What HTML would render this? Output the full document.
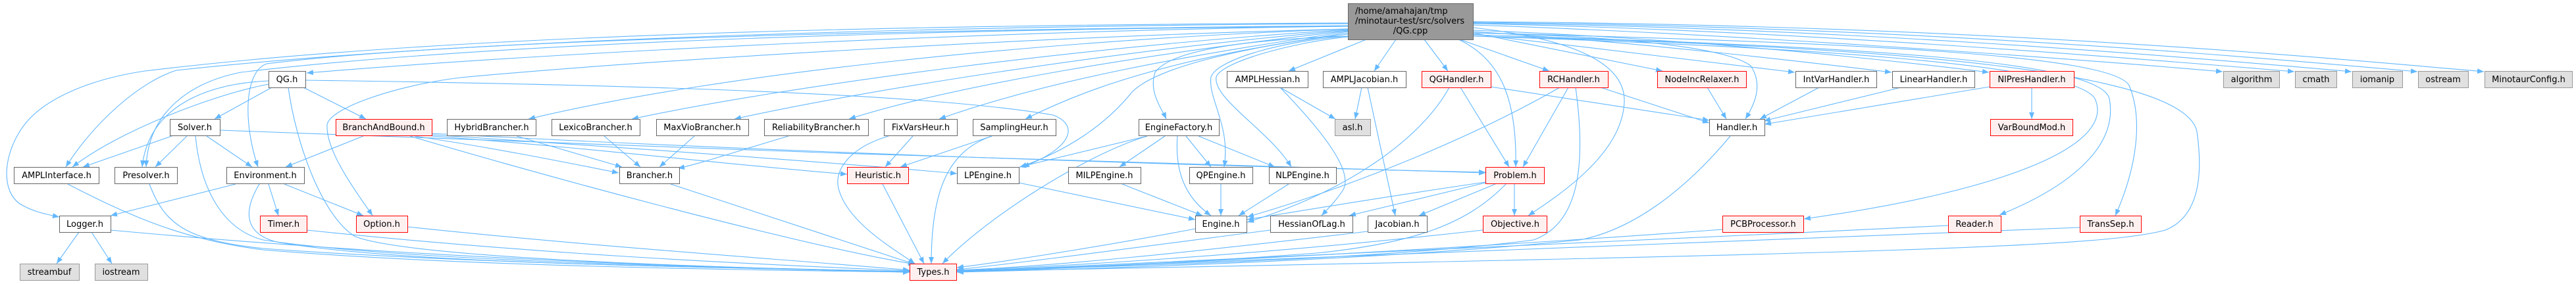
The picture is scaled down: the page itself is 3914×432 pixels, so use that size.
<!DOCTYPE html>
<html><head><meta charset="utf-8"><style>
html,body{margin:0;padding:0;background:#fff;}
svg{display:block;}
text{font-family:"DejaVu Sans","Liberation Sans",sans-serif;font-size:13px;fill:#000;text-anchor:middle;}
.n{fill:#fff;stroke:#666;stroke-width:1;}
.r{fill:#fff0f0;stroke:#ff0000;stroke-width:1;}
.g{fill:#e0e0e0;stroke:#999;stroke-width:1;}
.e path{fill:none;stroke:#63b8ff;stroke-width:1.1;}
</style></head><body>
<svg width="3914" height="432" viewBox="0 0 3914 432" xmlns="http://www.w3.org/2000/svg">
<defs><marker id="ah" viewBox="0 0 10 8" refX="10" refY="4" markerWidth="10" markerHeight="8" orient="auto" markerUnits="userSpaceOnUse"><path d="M0,0L10,4L0,8z" fill="#63b8ff"/></marker></defs>
<rect width="3914" height="432" fill="#fff"/>
<g class="e" marker-end="url(#ah)">
<path d="M2048,40 C1600,45 900,75 466,111"/>
<path d="M2048,36 C1400,40 700,60 268,107 C210,125 140,190 100,254"/>
<path d="M2048,35 C1400,38 700,50 220,108 C140,120 60,150 30,200 C5,240 2,290 30,310 C50,322 70,326 90,330"/>
<path d="M2048,40 C1300,45 700,70 366,110 C290,125 225,170 222,254"/>
<path d="M2048,39 C1400,45 700,60 405,97 C370,110 370,190 392,254"/>
<path d="M2048,44 C1600,55 1000,90 700,118 C600,130 500,165 497,190 C495,230 540,290 566,328"/>
<path d="M2048,44 C1600,60 1100,110 803,181"/>
<path d="M2048,45 C1650,70 1200,130 960,181"/>
<path d="M2048,46 C1700,75 1300,140 1116,181"/>
<path d="M2048,47 C1750,80 1450,130 1290,181"/>
<path d="M2048,48 C1800,85 1600,120 1427,181"/>
<path d="M2048,50 C1850,80 1700,110 1558,181"/>
<path d="M2048,52 C1900,70 1760,100 1720,140 C1680,190 1620,230 1550,254"/>
<path d="M2048,55 C1900,60 1780,75 1755,110 C1745,140 1765,165 1772,181"/>
<path d="M2048,55 C1950,62 1850,90 1840,117 C1835,150 1870,190 1860,254"/>
<path d="M2048,56 C1960,65 1855,95 1848,117 C1842,150 1930,200 1962,254"/>
<path d="M2076,60 L1958,108"/>
<path d="M2121,60 L2088,108"/>
<path d="M2164,60 L2200,108"/>
<path d="M2216,60 C2280,90 2305,150 2303,254"/>
<path d="M2218,60 L2354,108"/>
<path d="M2238,42 C2400,60 2470,100 2468,155 C2465,230 2380,290 2322,328"/>
<path d="M2238,50 L2526,108"/>
<path d="M2238,52 C2400,70 2600,95 2727,110"/>
<path d="M2238,48 C2500,65 2750,95 2874,110"/>
<path d="M2238,46 C2600,60 2900,95 3022,110"/>
<path d="M2238,50 C2450,55 2620,70 2660,100 C2680,130 2665,160 2652,181"/>
<path d="M2238,55 C2700,70 3150,95 3183,150 C3215,220 3050,290 2741,333"/>
<path d="M2238,53 C2800,70 3190,90 3205,150 C3220,230 3130,290 3038,327"/>
<path d="M2238,50 C2850,65 3210,85 3235,130 C3260,190 3240,270 3214,328"/>
<path d="M2238,55 C2900,70 3320,110 3338,200 C3348,270 3340,330 3290,350 C3200,375 2900,385 1454,413"/>
<path d="M2238,38 C2600,50 3100,85 3377,109"/>
<path d="M2238,36 C2700,45 3200,85 3486,109"/>
<path d="M2238,35 C2800,42 3300,85 3573,109"/>
<path d="M2238,34 C2900,40 3400,85 3673,109"/>
<path d="M2238,33 C3000,38 3500,85 3774,109"/>
<path d="M413,133 L326,181"/>
<path d="M461,133 L556,181"/>
<path d="M408,128 C320,145 180,200 110,254"/>
<path d="M408,123 C300,128 225,170 216,254"/>
<path d="M438,133 C450,220 490,330 540,360 C620,390 1000,405 1382,414"/>
<path d="M464,122 C900,128 1400,140 1600,175 C1640,190 1630,225 1554,254"/>
<path d="M261,207 L126,254"/>
<path d="M284,207 L236,254"/>
<path d="M314,207 L383,254"/>
<path d="M297,207 C305,290 340,350 400,365 C600,395 1000,405 1382,413"/>
<path d="M334,198 C900,220 1700,250 2257,263"/>
<path d="M552,207 L434,254"/>
<path d="M630,207 C750,225 850,245 940,263"/>
<path d="M656,207 C900,225 1100,250 1287,265"/>
<path d="M623,207 C800,260 1200,370 1390,402"/>
<path d="M656,205 C1000,228 1300,250 1454,264"/>
<path d="M656,203 C1200,232 1800,252 2257,262"/>
<path d="M358,280 L168,328"/>
<path d="M408,280 L423,328"/>
<path d="M432,280 L552,328"/>
<path d="M394,280 C370,320 370,355 420,368 C600,400 1000,405 1382,413"/>
<path d="M103,280 C200,330 280,365 400,380 C700,405 1100,410 1382,414"/>
<path d="M227,280 C250,340 280,365 400,378 C700,400 1100,408 1382,413"/>
<path d="M120,353 L86,401"/>
<path d="M139,353 L170,401"/>
<path d="M168,350 C600,390 1000,405 1382,414"/>
<path d="M466,350 C800,385 1100,400 1382,412"/>
<path d="M619,345 C900,375 1200,395 1382,411"/>
<path d="M1019,280 L1390,402"/>
<path d="M785,207 L945,254"/>
<path d="M918,207 L973,254"/>
<path d="M1055,207 L1002,254"/>
<path d="M1198,207 C1120,230 1060,250 1030,256"/>
<path d="M1387,207 L1345,254"/>
<path d="M1350,207 C1290,225 1265,260 1275,290 C1290,340 1360,380 1390,401"/>
<path d="M1507,207 L1368,254"/>
<path d="M1507,207 C1440,230 1415,290 1415,401"/>
<path d="M1341,280 L1404,401"/>
<path d="M1743,207 L1549,254"/>
<path d="M1743,207 C1650,235 1500,330 1432,401"/>
<path d="M1770,207 L1701,254"/>
<path d="M1789,207 C1785,260 1800,300 1840,328"/>
<path d="M1802,207 L1840,254"/>
<path d="M1821,207 L1937,254"/>
<path d="M1548,278 L1816,334"/>
<path d="M1705,280 L1827,328"/>
<path d="M1855,280 L1855,328"/>
<path d="M1958,280 L1882,328"/>
<path d="M1816,348 C1700,370 1550,395 1454,407"/>
<path d="M1930,350 C1700,380 1550,400 1454,410"/>
<path d="M2078,352 C1800,385 1600,405 1454,411"/>
<path d="M2253,350 C1900,390 1600,405 1454,412"/>
<path d="M2257,278 L2050,328"/>
<path d="M2272,280 L2156,328"/>
<path d="M2301,280 L2301,328"/>
<path d="M2288,280 C2230,340 2150,370 2000,385 C1800,400 1600,410 1454,413"/>
<path d="M2257,277 C2100,300 1950,325 1895,334"/>
<path d="M2219,133 L2293,254"/>
<path d="M2202,133 C2160,210 2050,290 1895,338"/>
<path d="M2265,132 L2597,183"/>
<path d="M2383,133 L2314,254"/>
<path d="M2370,133 C2200,230 2000,300 1895,330"/>
<path d="M2394,133 C2410,250 2400,340 2330,365 C2100,395 1700,405 1454,412"/>
<path d="M2432,133 L2597,187"/>
<path d="M2594,133 L2623,181"/>
<path d="M2629,207 C2560,290 2480,350 2400,365 C2100,395 1700,408 1454,414"/>
<path d="M2764,133 L2674,181"/>
<path d="M2888,133 L2680,184"/>
<path d="M3023,132 L2681,189"/>
<path d="M3087,133 L3087,181"/>
<path d="M2617,349 C2200,380 1700,405 1454,413"/>
<path d="M2960,343 C2400,370 1800,400 1454,413"/>
<path d="M3160,346 C2500,372 1800,402 1454,413"/>
<path d="M1945,133 L2029,181"/>
<path d="M1945,133 C2000,190 2060,260 2040,290 C2030,305 2020,315 2008,328"/>
<path d="M2069,133 L2059,181"/>
<path d="M2078,133 L2120,328"/>
</g>

<rect x="2048.5" y="5.5" width="190" height="55" fill="#999" stroke="#666"/>
<text x="2059" y="21" style="text-anchor:start">/home/amahajan/tmp</text>
<text x="2059" y="36" style="text-anchor:start">/minotaur-test/src/solvers</text>
<text x="2143" y="51">/QG.cpp</text>

<rect class="n" x="408.5" y="108.5" width="56" height="25"/><text x="436" y="125">QG.h</text>
<rect class="n" x="1864.5" y="108.5" width="123" height="25"/><text x="1926" y="125">AMPLHessian.h</text>
<rect class="n" x="2010.5" y="108.5" width="126" height="25"/><text x="2073" y="125">AMPLJacobian.h</text>
<rect class="r" x="2160.5" y="108.5" width="105" height="25"/><text x="2213" y="125">QGHandler.h</text>
<rect class="r" x="2339.5" y="108.5" width="104" height="25"/><text x="2391" y="125">RCHandler.h</text>
<rect class="r" x="2518.5" y="108.5" width="135" height="25"/><text x="2586" y="125">NodeIncRelaxer.h</text>
<rect class="n" x="2728.5" y="108.5" width="123" height="25"/><text x="2790" y="125">IntVarHandler.h</text>
<rect class="n" x="2875.5" y="108.5" width="125" height="25"/><text x="2938" y="125">LinearHandler.h</text>
<rect class="r" x="3023.5" y="108.5" width="128" height="25"/><text x="3087" y="125">NlPresHandler.h</text>
<rect class="g" x="3378.5" y="108.5" width="85" height="25"/><text x="3421" y="125">algorithm</text>
<rect class="g" x="3487.5" y="108.5" width="63" height="25"/><text x="3519" y="125">cmath</text>
<rect class="g" x="3574.5" y="108.5" width="76" height="25"/><text x="3612" y="125">iomanip</text>
<rect class="g" x="3674.5" y="108.5" width="76" height="25"/><text x="3712" y="125">ostream</text>
<rect class="g" x="3775.5" y="108.5" width="133" height="25"/><text x="3842" y="125">MinotaurConfig.h</text>

<rect class="n" x="258.5" y="181.5" width="76" height="25"/><text x="296" y="198">Solver.h</text>
<rect class="r" x="510.5" y="181.5" width="146" height="25"/><text x="583" y="198">BranchAndBound.h</text>
<rect class="n" x="679.5" y="181.5" width="135" height="25"/><text x="747" y="198">HybridBrancher.h</text>
<rect class="n" x="838.5" y="181.5" width="134" height="25"/><text x="905" y="198">LexicoBrancher.h</text>
<rect class="n" x="997.5" y="181.5" width="140" height="25"/><text x="1067" y="198">MaxVioBrancher.h</text>
<rect class="n" x="1161.5" y="181.5" width="158" height="25"/><text x="1240" y="198">ReliabilityBrancher.h</text>
<rect class="n" x="1343.5" y="181.5" width="111" height="25"/><text x="1399" y="198">FixVarsHeur.h</text>
<rect class="n" x="1478.5" y="181.5" width="126" height="25"/><text x="1541" y="198">SamplingHeur.h</text>
<rect class="n" x="1730.5" y="181.5" width="122" height="25"/><text x="1791" y="198">EngineFactory.h</text>
<rect class="g" x="2028.5" y="181.5" width="54" height="25"/><text x="2055" y="198">asl.h</text>
<rect class="n" x="2597.5" y="181.5" width="84" height="25"/><text x="2639" y="198">Handler.h</text>
<rect class="r" x="3024.5" y="181.5" width="125" height="25"/><text x="3087" y="198">VarBoundMod.h</text>

<rect class="n" x="21.5" y="254.5" width="129" height="25"/><text x="86" y="271">AMPLInterface.h</text>
<rect class="n" x="174.5" y="254.5" width="95" height="25"/><text x="222" y="271">Presolver.h</text>
<rect class="n" x="344.5" y="254.5" width="118" height="25"/><text x="403" y="271">Environment.h</text>
<rect class="n" x="941.5" y="254.5" width="91" height="25"/><text x="987" y="271">Brancher.h</text>
<rect class="r" x="1287.5" y="254.5" width="93" height="25"/><text x="1334" y="271">Heuristic.h</text>
<rect class="n" x="1454.5" y="254.5" width="94" height="25"/><text x="1501" y="271">LPEngine.h</text>
<rect class="n" x="1623.5" y="254.5" width="110" height="25"/><text x="1678" y="271">MILPEngine.h</text>
<rect class="n" x="1807.5" y="254.5" width="96" height="25"/><text x="1855" y="271">QPEngine.h</text>
<rect class="n" x="1928.5" y="254.5" width="102" height="25"/><text x="1979" y="271">NLPEngine.h</text>
<rect class="r" x="2257.5" y="254.5" width="89" height="25"/><text x="2302" y="271">Problem.h</text>

<rect class="n" x="90.5" y="328.5" width="78" height="25"/><text x="129" y="345">Logger.h</text>
<rect class="r" x="395.5" y="328.5" width="71" height="25"/><text x="431" y="345">Timer.h</text>
<rect class="r" x="541.5" y="328.5" width="78" height="25"/><text x="580" y="345">Option.h</text>
<rect class="n" x="1816.5" y="328.5" width="78" height="25"/><text x="1855" y="345">Engine.h</text>
<rect class="n" x="1930.5" y="328.5" width="125" height="25"/><text x="1993" y="345">HessianOfLag.h</text>
<rect class="n" x="2078.5" y="328.5" width="90" height="25"/><text x="2123" y="345">Jacobian.h</text>
<rect class="r" x="2253.5" y="328.5" width="97" height="25"/><text x="2302" y="345">Objective.h</text>
<rect class="r" x="2617.5" y="328.5" width="123" height="25"/><text x="2679" y="345">PCBProcessor.h</text>
<rect class="r" x="2960.5" y="328.5" width="80" height="25"/><text x="3000" y="345">Reader.h</text>
<rect class="r" x="3160.5" y="328.5" width="93" height="25"/><text x="3207" y="345">TransSep.h</text>

<rect class="g" x="30.5" y="401.5" width="90" height="25"/><text x="75" y="418">streambuf</text>
<rect class="g" x="144.5" y="401.5" width="80" height="25"/><text x="184" y="418">iostream</text>
<rect class="r" x="1382.5" y="401.5" width="71" height="25"/><text x="1418" y="418">Types.h</text>
</svg>
</body></html>
